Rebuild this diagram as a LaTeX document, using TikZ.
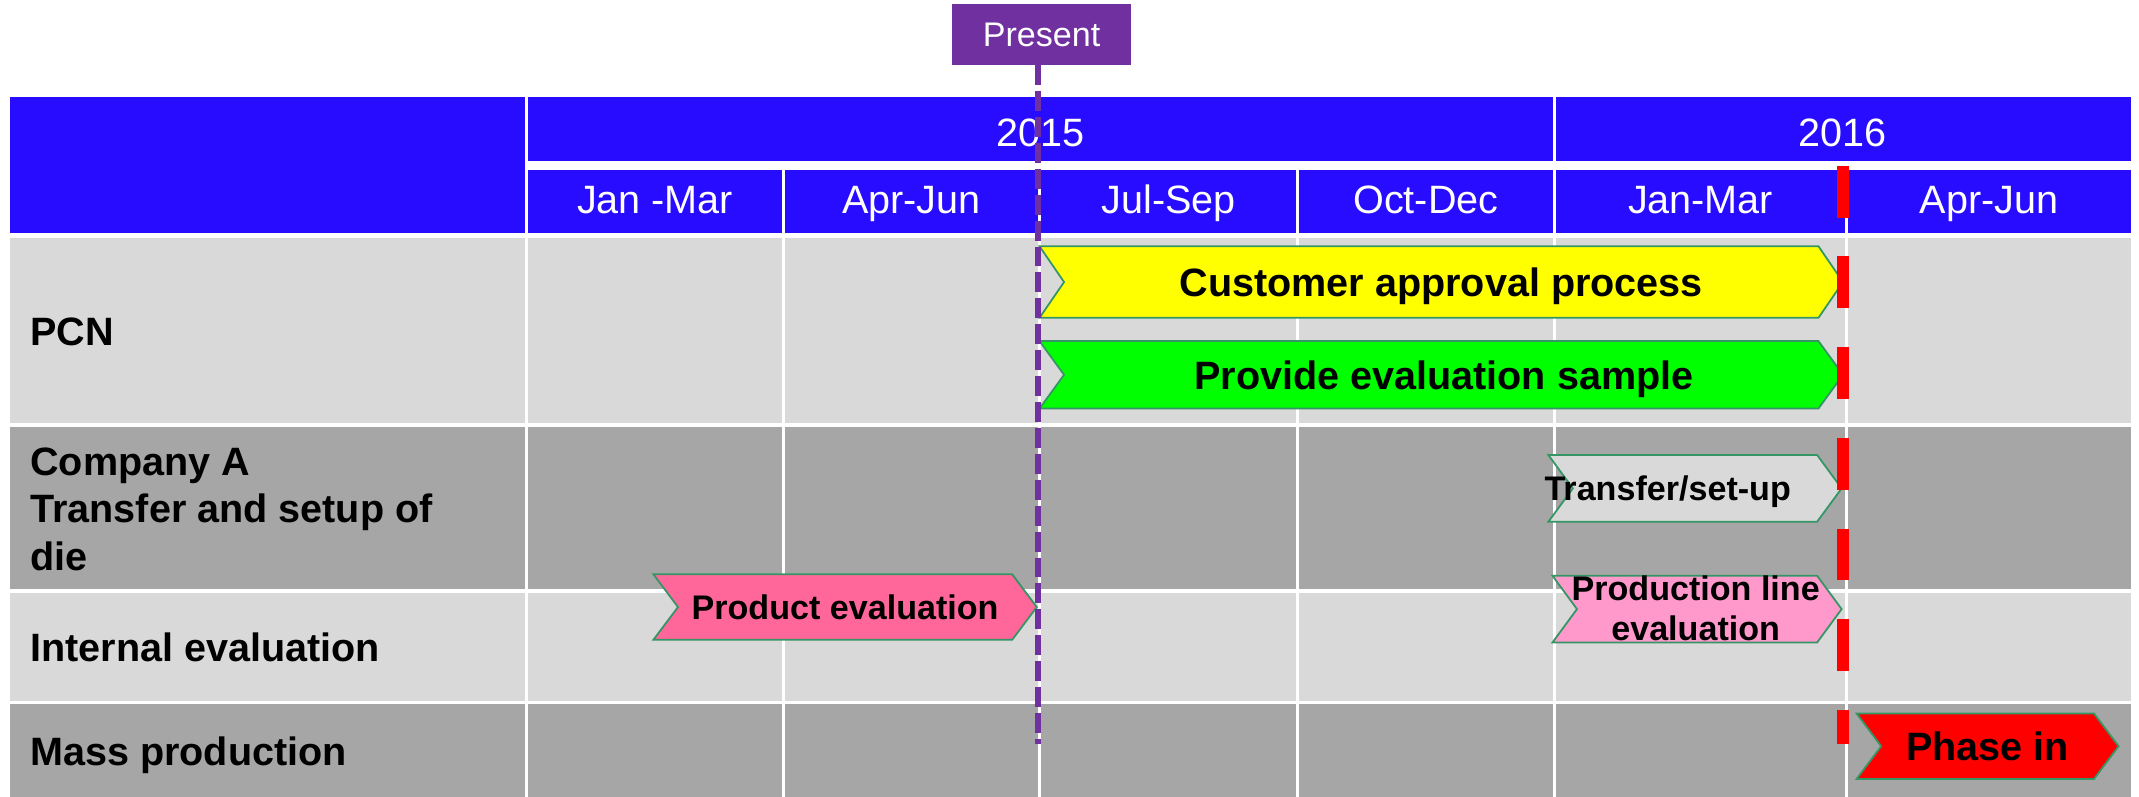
\documentclass[tikz,border=0pt]{standalone}
\usepackage{fontspec}
\setmainfont{Liberation Sans}
\definecolor{hdrblue}{RGB}{40,12,255}
\definecolor{lgray}{RGB}{217,217,217}
\definecolor{dgray}{RGB}{166,166,166}
\definecolor{presentpurple}{RGB}{112,48,160}
\definecolor{chevedge}{RGB}{52,150,100}
\definecolor{pinkA}{RGB}{255,102,153}
\definecolor{pinkB}{RGB}{255,153,204}
\definecolor{milered}{RGB}{255,0,0}
\definecolor{baryellow}{RGB}{255,255,0}
\definecolor{bargreen}{RGB}{0,255,0}
\newcommand\chevshape[5]{%
  \filldraw[chev, fill=#5] (#1,#2) -- ({#3-18},#2) -- (#3,{(#2+#4)/2}) -- ({#3-18},#4) -- (#1,#4) -- ({#1+18},{(#2+#4)/2}) -- cycle;}
\begin{document}
\begin{tikzpicture}[x=1pt,y=-1pt,
  hdrtxt/.style={text=white, inner sep=0pt, font=\fontsize{29}{35}\selectfont},
  rowlbl/.style={inner sep=0pt, align=left, font=\fontsize{29}{35}\selectfont\bfseries},
  bigbar/.style={inner sep=0pt, font=\fontsize{29}{35}\selectfont\bfseries},
  smallbar/.style={inner sep=0pt, align=center, font=\fontsize{25}{29.8}\selectfont\bfseries},
  chev/.style={draw=chevedge, line width=1.3pt, line join=miter},
  colsep/.style={white, line width=2.3pt},
  presentline/.style={draw=presentpurple, line width=4.6pt, dash pattern=on 14.6pt off 4.4pt},
  milestone/.style={draw=milered, line width=9pt, dash pattern=on 38pt off 28.5pt}]
\useasboundingbox (0,0) rectangle (1568,584);
\fill[white] (0,0) rectangle (1568,584);
% header
\fill[hdrblue] (7.2,71) rectangle (384.6,170.6);
\fill[hdrblue] (387,71) rectangle (1562,117.8);
\fill[hdrblue] (387,124.6) rectangle (1562,170.6);
\draw[colsep] (1139.7,71) -- (1139.7,117.8);
\foreach \cx in {574.5,762.1,951,1139.7,1353.5} \draw[colsep] (\cx,124.6) -- (\cx,170.6);
\node[hdrtxt, anchor=base] (y2015) at (762.5,107.5) {2015};
\node[hdrtxt, anchor=base] (y2016) at (1351,107.5) {2016};
\node[hdrtxt, anchor=base] (m1) at (480.2,156.5) {Jan -Mar};
\node[hdrtxt, anchor=base] (m2) at (668,156.5) {Apr-Jun};
\node[hdrtxt, anchor=base] (m3) at (856.6,156.5) {Jul-Sep};
\node[hdrtxt, anchor=base] (m4) at (1045.3,156.5) {Oct-Dec};
\node[hdrtxt, anchor=base] (m5) at (1246.6,156.5) {Jan-Mar};
\node[hdrtxt, anchor=base] (m6) at (1458,156.5) {Apr-Jun};
% body rows
\fill[lgray] (7.2,174.5) rectangle (1562,310);
\fill[dgray] (7.2,312.8) rectangle (1562,432);
\fill[lgray] (7.2,434.5) rectangle (1562,513.7);
\fill[dgray] (7.2,516) rectangle (1562,584);
\foreach \cx in {385.9,574.5,762.1,951,1139.7,1353.5} \draw[colsep] (\cx,174.5) -- (\cx,584);
% row labels
\node[rowlbl, anchor=base west] (lpcn) at (22,253) {PCN};
\node[rowlbl, anchor=base west] (lcomp) at (22,418.3) {Company A\\Transfer and setup of\\die};
\node[rowlbl, anchor=base west] (lint) at (22,485) {Internal evaluation};
\node[rowlbl, anchor=base west] (lmass) at (22,561.3) {Mass production};
% bars
\chevshape{762}{180.5}{1351}{233}{baryellow}
\node[bigbar, anchor=base] (bcust) at (1056.5,217.5) {Customer approval process};
\chevshape{762}{250}{1351}{299.5}{bargreen}
\node[bigbar, anchor=base] (bprov) at (1058.5,285.4) {Provide evaluation sample};
\chevshape{1135}{333.5}{1350}{382.5}{lgray}
\node[smallbar, anchor=base west] (btrans) at (1132,366.6) {Transfer/set-up};
\chevshape{1138}{422}{1350}{471}{pinkB}
\node[smallbar, anchor=base] (bprodline) at (1243,469.7) {Production line\\evaluation};
\chevshape{479}{421}{760}{469}{pinkA}
\node[smallbar, anchor=base] (bprodev) at (619.5,454) {Product evaluation};
\chevshape{1361}{523}{1553}{571}{milered}
\node[bigbar, anchor=base] (bphase) at (1457,557.6) {Phase in};
% milestone line
\coordinate (rTop) at (1351,121.5);
\coordinate (rEnd) at (1351,545.6);
\draw[milestone] (rTop) -- (rEnd);
% present marker
\node[fill=presentpurple, text=white, minimum width=131pt, minimum height=44.7pt, inner sep=0pt,
  font=\fontsize{25}{30}\selectfont] (present) at (763.5,25.4) {Present};
\coordinate (pTop) at (760.8,47.7);
\coordinate (pEnd) at (760.8,545.5);
\draw[presentline] (pTop) -- (pEnd);
\end{tikzpicture}
\end{document}
